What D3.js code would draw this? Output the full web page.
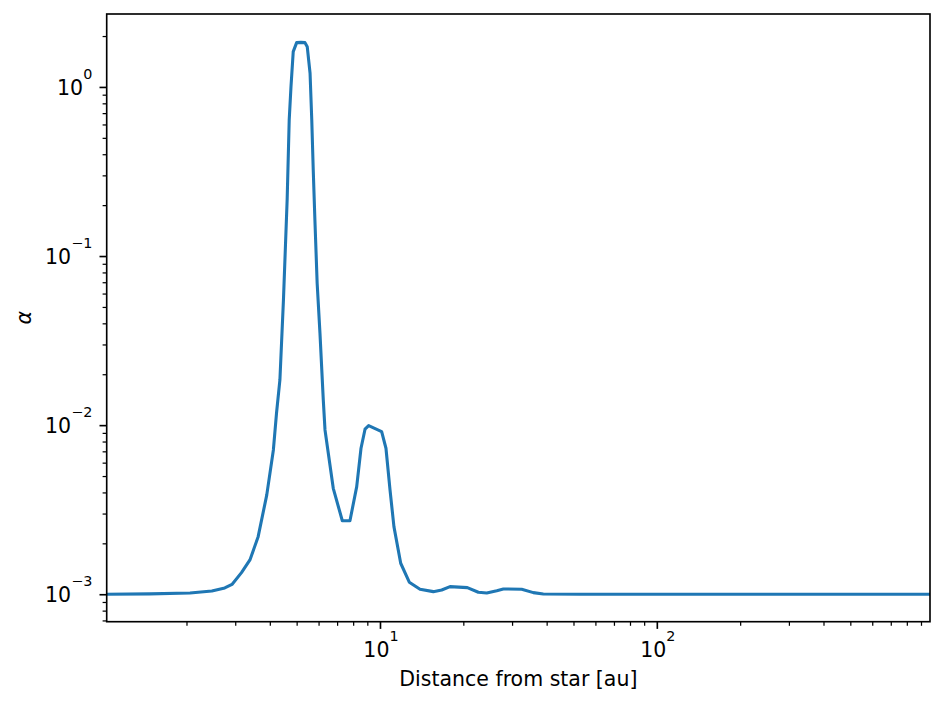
<!DOCTYPE html>
<html>
<head>
<meta charset="utf-8">
<script src="https://cdn.jsdelivr.net/npm/d3@7"></script>
<style>
  body { margin: 0; background: #fff; }
  text { font-family: "DejaVu Sans", sans-serif; fill: #000; }
</style>
</head>
<body>
<svg id="chart"></svg>
<script>
// SET DATA
const radius = [1.03, 1.475, 2.06, 2.47, 2.75, 2.92, 3.16, 3.39, 3.63, 3.9, 4.12, 4.23, 4.35, 4.48, 4.62, 4.7,
                4.77, 4.86, 5.0, 5.18, 5.36, 5.46, 5.59, 5.67, 5.74, 5.82, 5.93, 6.07, 6.24, 6.33, 6.78, 7.31,
                7.79, 8.24, 8.54, 8.83, 9.1, 10.14, 10.51, 10.87, 11.23, 11.88, 12.76, 13.95, 15.58, 16.71, 17.91,
                20.68, 22.66, 24.3, 26.42, 27.9, 32.5, 35.8, 38.9, 52.8, 970];
const alpha = [1.0e-3, 1.005e-3, 1.018e-3, 1.046e-3, 1.09e-3, 1.143e-3, 1.342e-3, 1.595e-3, 2.19e-3, 3.87e-3, 7.13e-3, 1.18e-2, 1.85e-2, 5.5e-2, 0.215, 0.638,
               1.004, 1.617, 1.828, 1.834, 1.828, 1.731, 1.205, 0.638, 0.323, 0.1635, 0.069, 0.035, 1.41e-2, 9.37e-3, 4.23e-3, 2.72e-3,
               2.72e-3, 4.33e-3, 7.3e-3, 9.46e-3, 9.93e-3, 9.15e-3, 7.3e-3, 4.14e-3, 2.51e-3, 1.525e-3, 1.178e-3, 1.07e-3, 1.036e-3, 1.06e-3, 1.109e-3,
               1.094e-3, 1.027e-3, 1.018e-3, 1.05e-3, 1.075e-3, 1.07e-3, 1.022e-3, 1.004e-3, 1.0e-3, 1.0e-3];
const xTickValues = [10, 100];
const xTickExp = ['1', '2'];
const yTickValues = [1, 0.1, 0.01, 0.001];
const yTickExp = ['0', '\u22121', '\u22122', '\u22123'];
const xDomain = [1.03, 970];
const yDomain = [6.88e-4, 2.70];
const xLabel = 'Distance from star [au]';
const yLabel = '\u03b1';

// SET VARIABLES
var _canvasWidth = 945;
var _canvasHeight = 704;
const _margin = {left: 106.7, right: 15, top: 14, bottom: 82.3};
const _plotWidth = _canvasWidth - _margin.left - _margin.right;
const _plotHeight = _canvasHeight - _margin.top - _margin.bottom;
const _tick = {major: 7.2, minor: 4.1, pad: 7.2};
const _fontSize = 20.5;
const _lineColor = '#1f77b4';

const svg = d3.select('#chart')
              .attr('width', _canvasWidth)
              .attr('height', _canvasHeight);

const xScale = d3.scaleLog().domain(xDomain).range([0, _plotWidth]);
const yScale = d3.scaleLog().domain(yDomain).range([_plotHeight, 0]);

const isPow10 = v => Math.abs(Math.log10(v) - Math.round(Math.log10(v))) < 1e-9;
const xMinor = xScale.ticks().filter(v => !isPow10(v));
const yMinor = yScale.ticks().filter(v => !isPow10(v));

const plot = svg.append('g')
                .attr('transform', `translate(${_margin.left}, ${_margin.top})`);

plot.append('clipPath')
      .attr('id', 'clip')
    .append('rect')
      .attr('width', _plotWidth)
      .attr('height', _plotHeight);

// DRAW LINE
const line = d3.line()
               .x((d, i) => xScale(radius[i]))
               .y(d => yScale(d));

plot.append('path')
      .datum(alpha)
      .attr('clip-path', 'url(#clip)')
      .attr('d', line)
      .attr('fill', 'none')
      .attr('stroke', _lineColor)
      .attr('stroke-width', 3.08)
      .attr('stroke-linejoin', 'round');

// DRAW AXES
function styleAxis(g, width) {
  g.select('.domain').remove();
  g.selectAll('line').attr('stroke', '#000').attr('stroke-width', width);
  g.selectAll('text').remove();
}

plot.append('g')
      .attr('transform', `translate(0, ${_plotHeight})`)
      .call(d3.axisBottom(xScale).tickValues(xMinor).tickSize(_tick.minor).tickFormat(''))
      .call(g => styleAxis(g, 1.23));
plot.append('g')
      .attr('transform', `translate(0, ${_plotHeight})`)
      .call(d3.axisBottom(xScale).tickValues(xTickValues).tickSize(_tick.major).tickFormat(''))
      .call(g => styleAxis(g, 1.64));
plot.append('g')
      .call(d3.axisLeft(yScale).tickValues(yMinor).tickSize(_tick.minor).tickFormat(''))
      .call(g => styleAxis(g, 1.23));
plot.append('g')
      .call(d3.axisLeft(yScale).tickValues(yTickValues).tickSize(_tick.major).tickFormat(''))
      .call(g => styleAxis(g, 1.64));

plot.append('rect')
      .attr('width', _plotWidth)
      .attr('height', _plotHeight)
      .attr('fill', 'none')
      .attr('stroke', '#000')
      .attr('stroke-width', 1.64);

// TICK LABELS
function powLabel(sel, exp) {
  sel.append('tspan').text('10');
  sel.append('tspan')
       .attr('dy', -16)
       .attr('font-size', _fontSize * 0.7)
       .text(exp);
}

plot.selectAll('text.xtick')
    .data(xTickValues)
      .enter()
    .append('text')
      .attr('class', 'xtick')
      .attr('x', d => xScale(d) + 1)
      .attr('y', _plotHeight + 35)
      .attr('text-anchor', 'middle')
      .attr('font-size', _fontSize)
      .each(function(d, i) { powLabel(d3.select(this), xTickExp[i]); });

plot.selectAll('text.ytick')
    .data(yTickValues)
      .enter()
    .append('text')
      .attr('class', 'ytick')
      .attr('x', -_tick.major - _tick.pad)
      .attr('y', d => yScale(d) + 8)
      .attr('text-anchor', 'end')
      .attr('font-size', _fontSize)
      .each(function(d, i) { powLabel(d3.select(this), yTickExp[i]); });

// AXIS TITLES
svg.append('text')
     .attr('x', _margin.left + _plotWidth / 2)
     .attr('y', 686)
     .attr('text-anchor', 'middle')
     .attr('font-size', _fontSize)
     .text(xLabel);

svg.append('text')
     .attr('transform', `translate(31, ${_margin.top + _plotHeight / 2}) rotate(-90)`)
     .attr('text-anchor', 'middle')
     .attr('font-size', _fontSize)
     .attr('font-style', 'italic')
     .text(yLabel);
</script>
</body>
</html>
